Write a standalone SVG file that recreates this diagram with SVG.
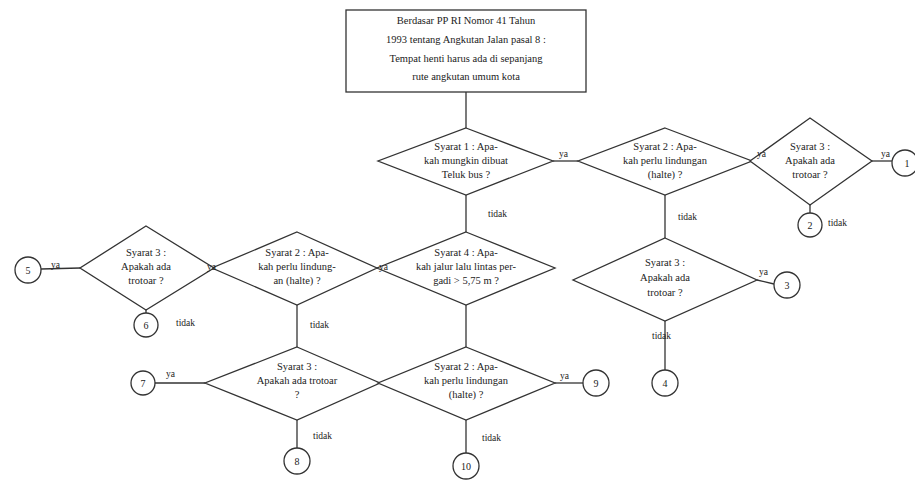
<svg xmlns="http://www.w3.org/2000/svg" width="915" height="495" viewBox="0 0 915 495">
  <style>
    .shape { fill: #ffffff; stroke: #333333; stroke-width: 1.3; }
    .line { fill: none; stroke: #333333; stroke-width: 1.3; }
    .t { font-family: "Liberation Serif", "Times New Roman", serif; font-size: 10.5px; fill: #222222; text-anchor: middle; }
    .lbl { font-family: "Liberation Serif", "Times New Roman", serif; font-size: 9.5px; fill: #222222; }
    .num { font-family: "Liberation Serif", "Times New Roman", serif; font-size: 10px; fill: #222222; text-anchor: middle; }
  </style>
  <rect width="915" height="495" fill="#ffffff"/>

  <!-- connectors -->
  <g id="connectors" class="line">
    <line x1="466" y1="92" x2="466" y2="128"/>
    <line x1="553" y1="161" x2="578" y2="161"/>
    <line x1="466" y1="195" x2="466" y2="232"/>
    <line x1="665" y1="195" x2="665" y2="238"/>
    <line x1="872" y1="161" x2="892" y2="161"/>
    <line x1="810" y1="205" x2="810" y2="213"/>
    <line x1="757" y1="280" x2="774" y2="284"/>
    <line x1="665" y1="321" x2="665" y2="370"/>
    <line x1="80" y1="268" x2="41" y2="269"/>
    <line x1="146" y1="310" x2="146" y2="313"/>
    <line x1="297" y1="305" x2="297" y2="347"/>
    <line x1="466" y1="305" x2="466" y2="347"/>
    <line x1="205" y1="383" x2="155" y2="383"/>
    <line x1="297" y1="420" x2="297" y2="448"/>
    <line x1="555" y1="383" x2="583" y2="383"/>
    <line x1="466" y1="420" x2="466" y2="453"/>
  </g>

  <!-- top statement box -->
  <g id="start">
    <rect class="shape" x="346" y="10" width="240" height="82"/>
    <text class="t" x="466" y="24">Berdasar PP RI Nomor 41 Tahun</text>
    <text class="t" x="466" y="43">1993 tentang Angkutan Jalan pasal 8 :</text>
    <text class="t" x="466" y="62">Tempat henti harus ada di sepanjang</text>
    <text class="t" x="466" y="80">rute angkutan umum kota</text>
  </g>

  <!-- decisions -->
  <g id="d-syarat1">
    <polygon class="shape" points="466,128 553,161 466,195 378,161"/>
    <text class="t" x="466" y="150">Syarat 1 : Apa-</text>
    <text class="t" x="466" y="164">kah mungkin dibuat</text>
    <text class="t" x="466" y="178">Teluk bus ?</text>
  </g>
  <g id="d-syarat2-a">
    <polygon class="shape" points="665,128 752,161 665,195 578,161"/>
    <text class="t" x="665" y="150">Syarat 2 : Apa-</text>
    <text class="t" x="665" y="164">kah perlu lindungan</text>
    <text class="t" x="665" y="178">(halte) ?</text>
  </g>
  <g id="d-syarat3-a">
    <polygon class="shape" points="810,118 872,161 810,205 750,161"/>
    <text class="t" x="810" y="150">Syarat 3 :</text>
    <text class="t" x="810" y="164">Apakah ada</text>
    <text class="t" x="810" y="178">trotoar ?</text>
  </g>
  <g id="d-syarat3-b">
    <polygon class="shape" points="665,238 757,280 665,321 573,280"/>
    <text class="t" x="665" y="266">Syarat 3 :</text>
    <text class="t" x="665" y="281">Apakah ada</text>
    <text class="t" x="665" y="296">trotoar ?</text>
  </g>
  <g id="d-syarat4">
    <polygon class="shape" points="466,232 555,268 466,305 377,268"/>
    <text class="t" x="466" y="256">Syarat 4 : Apa-</text>
    <text class="t" x="466" y="270">kah jalur lalu lintas per-</text>
    <text class="t" x="466" y="284">gadi &gt; 5,75 m ?</text>
  </g>
  <g id="d-syarat2-b">
    <polygon class="shape" points="297,232 377,268 297,305 212,268"/>
    <text class="t" x="297" y="256">Syarat 2 : Apa-</text>
    <text class="t" x="297" y="270">kah perlu lindung-</text>
    <text class="t" x="297" y="284">an (halte) ?</text>
  </g>
  <g id="d-syarat3-c">
    <polygon class="shape" points="146,226 214,268 146,310 80,268"/>
    <text class="t" x="146" y="256">Syarat 3 :</text>
    <text class="t" x="146" y="270">Apakah ada</text>
    <text class="t" x="146" y="284">trotoar ?</text>
  </g>
  <g id="d-syarat3-d">
    <polygon class="shape" points="297,347 380,383 297,420 205,383"/>
    <text class="t" x="297" y="370">Syarat 3 :</text>
    <text class="t" x="297" y="384">Apakah ada trotoar</text>
    <text class="t" x="297" y="398">?</text>
  </g>
  <g id="d-syarat2-c">
    <polygon class="shape" points="466,347 555,383 466,420 378,383"/>
    <text class="t" x="466" y="370">Syarat 2 : Apa-</text>
    <text class="t" x="466" y="384">kah perlu lindungan</text>
    <text class="t" x="466" y="398">(halte) ?</text>
  </g>

  <!-- branch labels -->
  <g id="labels" class="lbl">
    <text x="559" y="157">ya</text>
    <text x="757" y="157">ya</text>
    <text x="881" y="157">ya</text>
    <text x="488" y="217">tidak</text>
    <text x="678" y="220">tidak</text>
    <text x="828" y="226">tidak</text>
    <text x="759" y="275">ya</text>
    <text x="652" y="339">tidak</text>
    <text x="379" y="270">ya</text>
    <text x="207" y="270">ya</text>
    <text x="51" y="268">ya</text>
    <text x="176" y="326">tidak</text>
    <text x="310" y="328">tidak</text>
    <text x="166" y="377">ya</text>
    <text x="313" y="439">tidak</text>
    <text x="560" y="379">ya</text>
    <text x="482" y="441">tidak</text>
  </g>

  <!-- end points -->
  <g id="end-1"><circle class="shape" cx="905" cy="163" r="13"/><text class="num" x="907" y="167">1</text></g>
  <g id="end-2"><circle class="shape" cx="810" cy="225" r="12"/><text class="num" x="810" y="229">2</text></g>
  <g id="end-3"><circle class="shape" cx="787" cy="285" r="13"/><text class="num" x="787" y="289">3</text></g>
  <g id="end-4"><circle class="shape" cx="665" cy="383" r="13"/><text class="num" x="665" y="387">4</text></g>
  <g id="end-5"><circle class="shape" cx="28" cy="270" r="13"/><text class="num" x="28" y="274">5</text></g>
  <g id="end-6"><circle class="shape" cx="146" cy="325" r="12"/><text class="num" x="146" y="329">6</text></g>
  <g id="end-7"><circle class="shape" cx="143" cy="383" r="12"/><text class="num" x="143" y="387">7</text></g>
  <g id="end-8"><circle class="shape" cx="297" cy="461" r="13"/><text class="num" x="297" y="465">8</text></g>
  <g id="end-9"><circle class="shape" cx="596" cy="383" r="13"/><text class="num" x="596" y="387">9</text></g>
  <g id="end-10"><circle class="shape" cx="466" cy="466" r="13"/><text class="num" x="466" y="470">10</text></g>
</svg>
